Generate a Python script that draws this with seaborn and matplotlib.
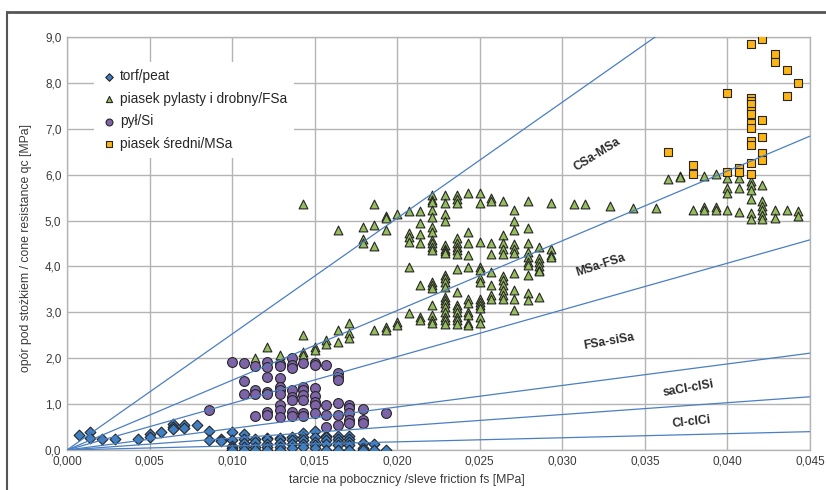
import pandas as pd
import matplotlib.pyplot as plt
import seaborn as sns
from matplotlib.lines import Line2D
from matplotlib.ticker import FuncFormatter, MultipleLocator

sns.set_theme(style="white")
plt.rcParams["font.family"] = ["Liberation Sans", "DejaVu Sans"]

# --- data: sleeve friction fs [MPa] -> cone resistance qc [MPa]
peat_fs = [0.0007, 0.0014, 0.0021, 0.0029, 0.0043, 0.0050, 0.0057, 0.0064, 0.0071,
           0.0079, 0.0086, 0.0093, 0.0100, 0.0107, 0.0114, 0.0121, 0.0129, 0.0136,
           0.0143, 0.0150, 0.0157, 0.0164, 0.0171, 0.0179, 0.0186, 0.0193]
peat_qc = [[0.33], [0.39, 0.27], [0.24], [0.25], [0.25], [0.35, 0.28], [0.39],
           [0.56, 0.50, 0.45], [0.55, 0.47], [0.54], [0.41, 0.22], [0.25, 0.20],
           [0.39, 0.22, 0.09, 0.04, 0.0], [0.35, 0.24, 0.15, 0.06, 0.0],
           [0.23, 0.18, 0.07, 0.0], [0.27, 0.23, 0.13, 0.06, 0.0],
           [0.27, 0.23, 0.16, 0.06, 0.0], [0.28, 0.22, 0.13, 0.04],
           [0.36, 0.29, 0.22, 0.13, 0.06], [0.42, 0.29, 0.18, 0.11, 0.04],
           [0.31, 0.29, 0.22, 0.13, 0.01], [0.31, 0.25, 0.18, 0.11, 0.01],
           [0.31, 0.24, 0.17, 0.11, 0.01], [0.15, 0.04, 0.0], [0.13, 0.0], [0.0]]

fsa_fs = [0.0114, 0.0121, 0.0129, 0.0143, 0.0150, 0.0157, 0.0164, 0.0171, 0.0179,
          0.0186, 0.0193, 0.0200, 0.0207, 0.0214, 0.0221, 0.0229, 0.0236, 0.0243,
          0.0250, 0.0257, 0.0264, 0.0271, 0.0279, 0.0286, 0.0293, 0.0307, 0.0314,
          0.0329, 0.0343, 0.0357, 0.0364, 0.0371, 0.0379, 0.0386, 0.0393, 0.0400,
          0.0407, 0.0414, 0.0421, 0.0429, 0.0436, 0.0443]
fsa_qc = [[2.00], [2.25], [2.07], [5.36, 2.51, 2.13, 2.08], [2.25, 2.18], [2.40, 2.32],
          [4.79, 2.61, 2.36], [2.76, 2.55, 2.45], [4.87, 4.59, 4.50],
          [5.36, 4.90, 4.45, 2.61], [5.10, 5.05, 4.79, 2.68, 2.61], [5.15, 2.80, 2.72],
          [5.21, 4.72, 4.65, 4.54, 3.98, 2.98],
          [5.21, 4.95, 4.71, 4.50, 3.59, 2.90, 2.83],
          [5.56, 5.45, 5.41, 5.23, 5.07, 4.86, 4.76, 4.58, 4.50, 4.43, 4.36, 3.67,
           3.59, 3.52, 3.16, 2.94, 2.83, 2.76],
          [5.56, 5.39, 5.14, 5.00, 4.46, 4.39, 4.34, 4.30, 3.81, 3.74, 3.67, 3.56,
           3.34, 3.27, 3.20, 3.12, 3.01, 2.90, 2.83, 2.74],
          [5.56, 5.46, 5.39, 4.61, 4.50, 4.43, 4.36, 4.27, 3.94, 3.45, 3.16, 3.09,
           3.01, 2.90, 2.83, 2.74],
          [5.59, 4.76, 4.52, 4.25, 3.98, 3.30, 3.20, 3.01, 2.94, 2.77, 2.72],
          [5.59, 5.38, 4.54, 3.98, 3.92, 3.74, 3.67, 3.30, 3.23, 3.16, 3.09, 2.90, 2.76],
          [5.50, 5.43, 4.50, 4.27, 3.87, 3.59, 3.38, 3.30],
          [5.43, 4.69, 4.50, 4.39, 4.27, 3.79, 3.70, 3.59, 3.49, 3.38, 3.30],
          [5.23, 5.00, 4.79, 4.48, 4.39, 4.30, 3.85, 3.49, 3.30, 3.05],
          [5.43, 4.84, 4.50, 4.32, 4.21, 4.10, 4.03, 3.81, 3.43, 3.27],
          [4.43, 4.18, 4.10, 4.01, 3.92, 3.89, 3.34], [5.39, 4.37, 4.25, 4.20],
          [5.37], [5.36], [5.32], [5.28], [5.27], [5.90], [5.98, 5.94], [5.24],
          [5.98, 5.30, 5.24], [6.02, 5.30, 5.24], [5.92, 5.70, 5.61, 5.24],
          [5.93, 5.70, 5.19], [5.87, 5.78, 5.66, 5.47, 5.17, 5.04],
          [5.77, 5.43, 5.32, 5.22, 5.12, 5.04], [5.24, 5.06], [5.22], [5.20, 5.11]]

si_fs = [0.0086, 0.0100, 0.0107, 0.0114, 0.0121, 0.0129, 0.0136, 0.0143, 0.0150,
         0.0157, 0.0164, 0.0171, 0.0179, 0.0193]
si_qc = [[0.87], [1.92], [1.90, 1.50, 1.22], [1.82, 1.31, 1.23, 0.75],
         [1.92, 1.80, 1.59, 1.27, 1.22, 0.82, 0.76],
         [1.87, 1.82, 1.57, 1.38, 1.30, 1.23, 0.97, 0.87, 0.73],
         [2.00, 1.86, 1.79, 1.31, 1.16, 1.09, 0.82, 0.75],
         [1.89, 1.38, 1.31, 1.20, 1.10, 0.80, 0.75],
         [1.89, 1.86, 1.35, 1.18, 1.05, 0.99, 0.80], [1.86, 0.97, 0.76, 0.51],
         [1.68, 1.59, 1.53, 1.02, 0.76, 0.54], [0.99, 0.91, 0.81, 0.65, 0.58],
         [0.89, 0.65, 0.59], [0.80]]

msa_fs = [0.0364, 0.0379, 0.0400, 0.0407, 0.0414, 0.0421, 0.0429, 0.0436, 0.0443]
msa_qc = [[6.49], [6.20, 6.01], [7.77, 6.06], [6.15, 6.06],
          [8.85, 7.66, 7.60, 7.53, 7.39, 7.33, 7.13, 7.01, 6.74, 6.64, 6.26, 6.01],
          [8.95, 7.20, 6.82, 6.48, 6.33], [8.64, 8.45], [8.27, 7.71], [8.00]]

series_names = ["torf/peat", "piasek pylasty i drobny/FSa", "pył/Si", "piasek średni/MSa"]

# boundary lines from the origin, value of qc at fs = 0.045
boundary_fs_max = 0.045
boundary_qc_at_max = [11.37, 6.84, 4.58, 2.11, 1.16, 0.40]
zone_names = ["CSa-MSa", "MSa-FSa", "FSa-siSa", "saCl-clSi", "Cl-clCi"]


def expand(fs_list, qc_lists, name):
    rows = [(f, q) for f, qs in zip(fs_list, qc_lists) for q in qs]
    df = pd.DataFrame(rows, columns=["fs", "qc"])
    df["soil"] = name
    return df


data = [expand(peat_fs, peat_qc, series_names[0]),
        expand(fsa_fs, fsa_qc, series_names[1]),
        expand(si_fs, si_qc, series_names[2]),
        expand(msa_fs, msa_qc, series_names[3])]

styles = [("D", "#3f7fc4", 30), ("^", "#95bd5c", 40), ("o", "#7d63a8", 50), ("s", "#fdb515", 40)]

fig = plt.figure(figsize=(8.26, 4.9), dpi=100)
ax = fig.add_axes([67 / 826, 40 / 490, 743 / 826, 413 / 490])

for df, (marker, color, size) in zip(data, styles):
    sns.scatterplot(data=df, x="fs", y="qc", marker=marker, color=color, s=size,
                    edgecolor="#262626", linewidth=0.8, label=df["soil"].iloc[0],
                    ax=ax, zorder=3)

for q in boundary_qc_at_max:
    ax.plot([0, boundary_fs_max], [0, q], color="#4a7fc1", lw=0.9, zorder=4)

# zone labels
label_pos = [(0.0321, 6.45, 32), (0.0323, 4.03, 18), (0.0328, 2.37, 10),
             (0.03765, 1.34, 10), (0.0378, 0.60, 6)]
for name, (x, y, rot) in zip(zone_names, label_pos):
    ax.text(x, y, name, ha="center", va="center", rotation=rot, fontsize=8.7,
            fontweight="bold", color="#2b2b2b", zorder=5)

ax.set_xlim(0, 0.045)
ax.set_ylim(0, 9)
ax.xaxis.set_major_locator(MultipleLocator(0.005))
ax.yaxis.set_major_locator(MultipleLocator(1.0))
ax.xaxis.set_major_formatter(FuncFormatter(lambda v, p: f"{v:.3f}".replace(".", ",")))
ax.yaxis.set_major_formatter(FuncFormatter(lambda v, p: f"{v:.1f}".replace(".", ",")))
ax.grid(True, color="#b4b4b4", lw=1.0, zorder=0)
ax.set_axisbelow(True)
for sp in ax.spines.values():
    sp.set_color("#b4b4b4")
    sp.set_linewidth(1.0)
ax.tick_params(axis="both", length=0, labelsize=8.5, labelcolor="#3a3a3a", pad=4)
ax.set_xlabel("tarcie na pobocznicy /sleve friction fs [MPa]", fontsize=8.8,
              color="#3a3a3a")
ax.set_ylabel("opór pod stożkiem / cone resistance qc [MPa]", fontsize=8.8,
              color="#3a3a3a")
ax.xaxis.set_label_coords((407 - 67) / 743, -24 / 413)
ax.yaxis.set_label_coords(-35 / 743, (450 - 248) / 413)

leg = ax.legend(loc="upper left", bbox_to_anchor=(0.037, 0.94), borderaxespad=0,
                frameon=True, facecolor="white", edgecolor="none", framealpha=1,
                fontsize=9.8, labelspacing=0.62, handletextpad=0.3, handlelength=1.0,
                markerscale=0.7, borderpad=0.55)
leg.set_zorder(6)

# outer chart frame
fig.add_artist(Line2D([6.5 / 826, 1], [1 - 12.5 / 490] * 2, color="#555555", lw=2))
fig.add_artist(Line2D([6.5 / 826] * 2, [0, 1 - 12.5 / 490], color="#555555", lw=1.5))

fig.savefig("out.png", dpi=100)
